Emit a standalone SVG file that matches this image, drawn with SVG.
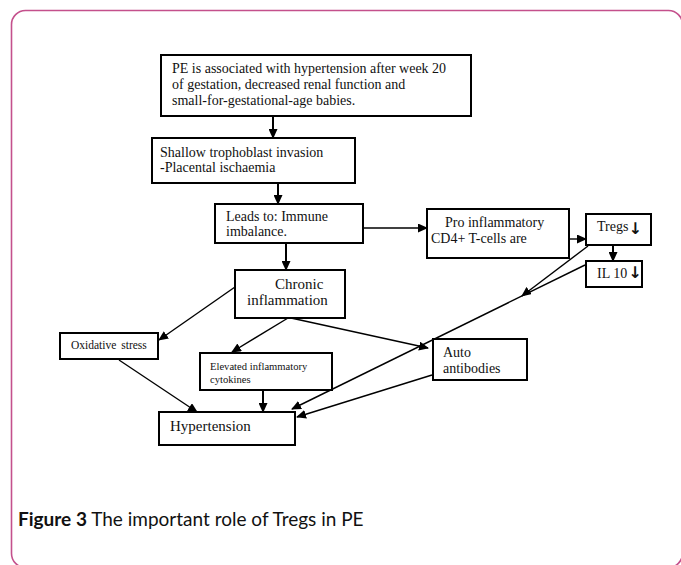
<svg xmlns="http://www.w3.org/2000/svg" width="681" height="565" viewBox="0 0 681 565">
<defs>
<style>
.box{fill:#fff;stroke:#000;stroke-width:2}
.t{font-family:"Liberation Serif","Times New Roman",serif;fill:#111}
.ar{font-family:"DejaVu Sans",sans-serif;font-weight:bold;font-size:16px}
.c{stroke:#000;stroke-width:1.4;fill:none;marker-end:url(#ah)}
.ct{stroke:#000;stroke-width:2;fill:none;marker-end:url(#ah)}
</style>
<marker id="ah" markerUnits="userSpaceOnUse" markerWidth="10" markerHeight="9" refX="9" refY="4.5" orient="auto">
<path d="M0,0 L10,4.5 L0,9 Z" fill="#000"/>
</marker>
</defs>
<rect width="681" height="565" fill="#fff"/>
<rect x="11.5" y="10.5" width="671" height="557" rx="14" fill="none" stroke="#c4508c" stroke-width="1.6"/>

<g id="connectors">
<line class="ct" x1="273" y1="116" x2="273" y2="138"/>
<line class="ct" x1="278" y1="183" x2="278" y2="204"/>
<line class="c" x1="363" y1="228" x2="427" y2="228"/>
<line class="c" x1="567" y1="239" x2="586" y2="239"/>
<line class="ct" x1="613" y1="245" x2="613" y2="261"/>
<line class="ct" x1="286" y1="243" x2="286" y2="270"/>
<line class="c" x1="588" y1="246" x2="522" y2="296"/>
<line class="c" x1="585" y1="265" x2="292" y2="409"/>
<line class="c" x1="235" y1="287" x2="159" y2="340"/>
<line class="c" x1="288" y1="318" x2="232" y2="352"/>
<line class="c" x1="291" y1="318" x2="428" y2="348"/>
<line class="c" x1="119" y1="360" x2="197" y2="412"/>
<line class="ct" x1="263" y1="390" x2="263" y2="412"/>
<line class="c" x1="432" y1="375" x2="297" y2="417"/>
</g>

<g id="n1"><rect class="box" x="161" y="55" width="310" height="61"/>
<text class="t" font-size="14"><tspan x="172" y="73">PE is associated with hypertension after week 20</tspan><tspan x="172" y="89">of gestation, decreased renal function and</tspan><tspan x="172" y="105">small-for-gestational-age babies.</tspan></text></g>

<g id="n2"><rect class="box" x="152" y="138" width="203" height="45"/>
<text class="t" font-size="14"><tspan x="160" y="157">Shallow trophoblast invasion</tspan><tspan x="160" y="172">-Placental ischaemia</tspan></text></g>

<g id="n3"><rect class="box" x="215" y="204" width="148" height="39"/>
<text class="t" font-size="14"><tspan x="226" y="221">Leads to: Immune</tspan><tspan x="226" y="236">imbalance.</tspan></text></g>

<g id="n4"><rect class="box" x="427" y="209" width="142" height="49"/>
<text class="t" font-size="14"><tspan x="445" y="227">Pro inflammatory</tspan><tspan x="431" y="243">CD4+ T-cells are</tspan></text></g>

<g id="n5"><rect class="box" x="586" y="214" width="65" height="31"/>
<text class="t" font-size="14" x="597" y="231">Tregs<tspan class="ar" dy="3">↓</tspan></text></g>

<g id="n6"><rect class="box" x="586" y="261" width="56" height="26"/>
<text class="t" font-size="14" x="597" y="278">IL 10<tspan class="ar" dx="1">↓</tspan></text></g>

<g id="n7"><rect class="box" x="235" y="270" width="110" height="48"/>
<text class="t" font-size="15"><tspan x="275" y="289">Chronic</tspan><tspan x="247" y="305">inflammation</tspan></text></g>

<g id="n8"><rect class="box" x="60" y="333" width="98" height="26"/>
<text class="t" font-size="11.5" x="71" y="349" word-spacing="2">Oxidative stress</text></g>

<g id="n9"><rect class="box" x="200" y="353" width="132" height="37"/>
<text class="t" font-size="10.6"><tspan x="210" y="370">Elevated inflammatory</tspan><tspan x="210" y="383">cytokines</tspan></text></g>

<g id="n10"><rect class="box" x="433" y="339" width="94" height="41"/>
<text class="t" font-size="14"><tspan x="443" y="357">Auto</tspan><tspan x="443" y="373">antibodies</tspan></text></g>

<g id="n11"><rect class="box" x="159" y="412" width="136" height="33"/>
<text class="t" font-size="15" x="170" y="431">Hypertension</text></g>

<text x="18" y="526" font-family="Lato,'Open Sans',sans-serif" font-size="19" fill="#111"><tspan font-weight="bold">Figure 3</tspan> The important role of Tregs in PE</text>
</svg>
